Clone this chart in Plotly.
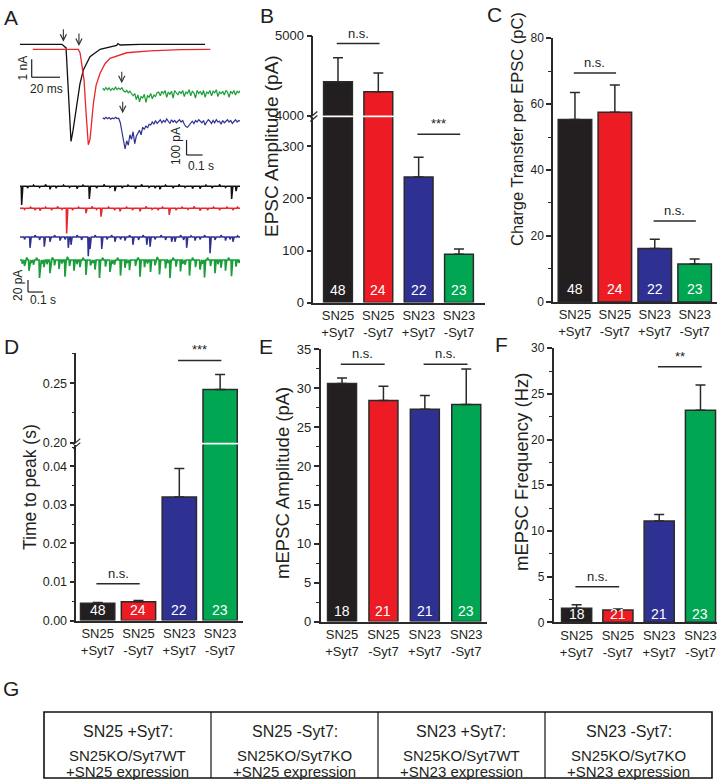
import numpy as np
import plotly.graph_objects as go

W, H = 718, 780
def fx(p): return p / W
def fy(p): return 1 - p / H

FONT = "Liberation Sans, Arial, Helvetica, sans-serif"
INK = "#231f20"

# ---------------- data ----------------
groups = ["SN25<br>+Syt7", "SN25<br>-Syt7", "SN23<br>+Syt7", "SN23<br>-Syt7"]
bar_colors = ["#231f20", "#ed1c24", "#2e3192", "#00a651"]
n_evoked = [48, 24, 22, 23]
n_mini = [18, 21, 21, 23]

epsc_amp = [4425, 4298, 241, 93]            # pA
epsc_amp_sem = [298, 234, 38, 10]
charge = [55.3, 57.5, 16.2, 11.5]           # pC
charge_sem = [8.2, 8.3, 2.8, 1.5]
time_to_peak = [0.0045, 0.0049, 0.0321, 0.2447]   # s
time_to_peak_sem = [0.0002, 0.0003, 0.0074, 0.0127]
mini_amp = [30.6, 28.4, 27.3, 27.9]         # pA
mini_amp_sem = [0.7, 1.85, 1.75, 4.55]
mini_freq = [1.53, 1.34, 11.1, 23.2]        # Hz
mini_freq_sem = [0.39, 0.12, 0.69, 2.76]

# significance brackets: (bar i, bar j, label, height, y-axis)
sig_B = [(0, 1, "n.s.", 4902, "y5"), (2, 3, "***", 323, "y4")]
sig_C = [(0, 1, "n.s.", 69.4, "y6"), (2, 3, "n.s.", 24.5, "y6")]
sig_D = [(0, 1, "n.s.", 0.00955, "y7"), (2, 3, "***", 0.2691, "y8")]
sig_E = [(0, 1, "n.s.", 33.07, "y9"), (2, 3, "n.s.", 33.07, "y9")]
sig_F = [(0, 1, "n.s.", 3.9, "y10"), (2, 3, "**", 27.97, "y10")]

# Panel A traces
# evoked EPSCs SN25 (time ms, current nA)
t_black = [0, 29.6, 32.5, 33.2, 34.6, 36.0, 37.4, 40.0, 42.3, 44.7, 49.4, 56.5, 63.5, 68.2, 69.1, 70.6, 84.7, 130.6]
i_black = [0, 0, -0.2, -1.2, -3.6, -5.4, -4.8, -3.3, -2.2, -1.43, -0.69, -0.28, -0.13, -0.06, 0.04, -0.04, 0, 0]
t_red = [0, 32.2, 33.4, 36.2, 37.6, 39.2, 40.4, 42.8, 44.7, 47.5, 51.0, 54.5, 66.3, 82.8, 104.0, 125.3]
i_red = [0, 0, -0.2, -1.7, -3.5, -5.3, -5.0, -3.0, -2.0, -1.33, -0.8, -0.5, -0.19, -0.08, -0.02, 0]
RED_SHIFT_MS, RED_SHIFT_NA = 9.0, -0.28
stim_black_ms, stim_red_ms = 30.6, 41.6

# evoked EPSCs SN23 (sampled every 10 ms, pA)
SN23_DT = 0.01
i_green = [5, -8, 10, -5, 8, -10, 4, -6, 12, -4, 6, -3,
           8, -12, -20, -10, -25, -15, -30,
           -45, -30, -70, -40, -85, -50, -60, -35, -90, -45, -55, -30, -65, -40, -50, -25,
           -20, -45, -15, -30, -10, -55, -20, -35, -15, -60, -10, -25, -40, -15, -30, -10,
           -50, -20, -30, -5, -45, -15, -25, -60, -10, -30, -15, -40, -10, -55, -20, -30,
           -10, -45, -15, -25, -5, -50, -20, -30, -15, -40, -10, -20, -55, -15, -30, -10,
           -40, -15, -25, -10]
i_blue = [3, -5, 6, -3, 5, -6, 2, -4, 7, -2, 0,
          -30, -90, -160, -205, -150, -180, -110, -140, -90, -170, -120, -100, -80, -110,
          -60, -75, -50, -65, -40, -45,
          -25, -40, -15, -35, -20, -10, -30, -15, -25, -5, -20, -35, -10, -25, -15, -30,
          -20, -10, -25, -15, -40, -55, -60, -45, -30, -20, -35, -15, -25, -10, -20, -30,
          -15, -45, -25, -10, -20, -35, -15, -30, -10, -25, -20, -40, -15, -30, -20, -10,
          -25, -15, -35, -20, -10, -25, -15, -20]
BLUE_OFFSET_PA = -195
stim_sn23_s = [0.119, 0.125]

# spontaneous mEPSC events (time s, amplitude pA; negative = upward noise blip)
MINI_T = 1.47
mini_black = [(0.011, 31), (0.05, 3), (0.09, -2), (0.13, 2), (0.17, -3), (0.2, 5), (0.24, 3), (0.29, -2),
              (0.33, 2), (0.38, 4), (0.42, -2), (0.462, 21), (0.51, 3), (0.56, -3), (0.6, 2), (0.633, 8),
              (0.68, 3), (0.72, -2), (0.77, 4), (0.81, -3), (0.86, 2), (0.9, 3), (0.933, 5), (0.97, -2),
              (1.02, 3), (1.06, -3), (1.1, 2), (1.15, 4), (1.2, 4), (1.24, -2), (1.28, 3), (1.33, -3),
              (1.37, 2), (1.411, 21), (1.44, 8)]
mini_red = [(0.03, 2), (0.07, -2), (0.1, 3), (0.133, 4), (0.17, -2), (0.21, 3), (0.25, -3), (0.28, 2),
            (0.311, 42), (0.35, 3), (0.39, -2), (0.44, 8), (0.48, -3), (0.51, 2), (0.54, 14), (0.59, -2),
            (0.63, 3), (0.667, 5), (0.71, -2), (0.75, 3), (0.8, 5), (0.84, -3), (0.88, 2), (0.92, 3),
            (0.95, -2), (0.995, 11), (1.04, 3), (1.08, -2), (1.12, 2), (1.16, -3), (1.2, 4), (1.25, 3),
            (1.29, -2), (1.33, 3), (1.38, -2), (1.42, 3), (1.45, -2)]
mini_blue = [(0.03, 4), (0.067, 18), (0.1, -3), (0.13, 5), (0.162, 16), (0.2, 8), (0.23, -3), (0.267, 6),
             (0.3, 4), (0.322, 18), (0.34, 13), (0.38, -3), (0.41, 5), (0.455, 32), (0.467, 20), (0.5, -3),
             (0.545, 20), (0.58, 4), (0.61, -3), (0.633, 8), (0.67, 4), (0.7, 6), (0.73, -3), (0.753, 13),
             (0.79, 5), (0.82, -3), (0.845, 13), (0.867, 16), (0.9, 4), (0.94, -3), (0.97, 5), (1.011, 8),
             (1.033, 8), (1.07, -3), (1.09, 5), (1.111, 18), (1.14, -2), (1.167, 6), (1.2, 4), (1.23, -3),
             (1.267, 27), (1.3, 5), (1.34, -3), (1.37, 6), (1.4, 4), (1.42, 8), (1.45, -2)]
mini_green = [(0.015, 6), (0.03, 10), (0.045, -4), (0.06, 18), (0.075, 5), (0.09, 8), (0.11, -4), (0.13, 30),
              (0.145, 6), (0.16, 12), (0.18, 7), (0.2, 22), (0.215, -4), (0.23, 9), (0.26, 15), (0.28, 6),
              (0.3, 28), (0.315, -5), (0.33, 10), (0.36, 18), (0.38, 7), (0.4, 12), (0.42, -4), (0.44, 25),
              (0.47, 9), (0.485, 5), (0.5, 16), (0.53, 30), (0.55, -4), (0.57, 11), (0.6, 20), (0.615, 6),
              (0.63, 8), (0.65, -4), (0.67, 26), (0.7, 13), (0.715, 5), (0.73, 17), (0.77, 10), (0.785, -4),
              (0.8, 28), (0.83, 12), (0.85, 6), (0.87, 20), (0.9, 9), (0.915, -5), (0.93, 24), (0.97, 14),
              (0.985, 5), (1.0, 30), (1.02, -4), (1.04, 11), (1.07, 19), (1.085, 6), (1.1, 8), (1.13, 26),
              (1.15, -4), (1.17, 12), (1.2, 16), (1.215, 6), (1.23, 29), (1.25, -4), (1.27, 10), (1.3, 22),
              (1.32, 7), (1.34, 13), (1.37, 18), (1.39, -4), (1.41, 27), (1.44, 11), (1.46, 5)]
mini_offsets = [0, -36.7, -84.5, -122.8]

# Table G
table_titles = ["SN25 +Syt7:", "SN25 -Syt7:", "SN23 +Syt7:", "SN23 -Syt7:"]
table_genotype = ["SN25KO/Syt7WT", "SN25KO/Syt7KO", "SN25KO/Syt7WT", "SN25KO/Syt7KO"]
table_expr = ["+SN25 expression", "+SN25 expression", "+SN23 expression", "+SN23 expression"]

# ---------------- figure ----------------
fig = go.Figure()
shapes = []
annots = []

def ann(x, y, text, size=12, xref="paper", yref="paper", color=INK, angle=0, xanchor="center",
        yanchor="middle", **kw):
    d = dict(x=x, y=y, xref=xref, yref=yref, text=text, showarrow=False, xanchor=xanchor, yanchor=yanchor,
             font=dict(family=FONT, size=size, color=color), textangle=angle)
    d.update(kw)
    annots.append(d)

# --- Panel A: evoked SN25 ---
fig.add_trace(go.Scatter(x=t_black, y=i_black, mode="lines", line=dict(color="#111111", width=1.3),
                         xaxis="x", yaxis="y", hoverinfo="skip"))
fig.add_trace(go.Scatter(x=np.array(t_red) + RED_SHIFT_MS, y=np.array(i_red) + RED_SHIFT_NA, mode="lines",
                         line=dict(color="#e8262b", width=1.3), xaxis="x", yaxis="y", hoverinfo="skip"))
for ts, yv in [(stim_black_ms, 0.144), (stim_red_ms, -0.094)]:
    annots.append(dict(x=ts, y=yv, xref="x", yref="y", ax=0, ay=-14, text="", showarrow=True,
                       arrowhead=5, arrowwidth=1.1, arrowsize=1.1, arrowcolor="#333"))
sb_t, sb_i = 8.26, -1.83
shapes.append(dict(type="line", xref="x", yref="y", x0=sb_t, x1=sb_t, y0=sb_i, y1=sb_i + 1, line=dict(color=INK, width=1.2)))
shapes.append(dict(type="line", xref="x", yref="y", x0=sb_t, x1=sb_t + 20, y0=sb_i, y1=sb_i, line=dict(color=INK, width=1.2)))
ann(fx(22), fy(68.5), "1 nA", 12, angle=-90)
ann(fx(46), fy(89), "20 ms", 12)

# --- Panel A: evoked SN23 ---
tg = np.arange(len(i_green)) * SN23_DT
tb = np.arange(len(i_blue)) * SN23_DT
fig.add_trace(go.Scatter(x=tg, y=i_green, mode="lines", line=dict(color="#1a9e3a", width=1.2),
                         xaxis="x2", yaxis="y2", hoverinfo="skip"))
fig.add_trace(go.Scatter(x=tb, y=np.array(i_blue) + BLUE_OFFSET_PA, mode="lines", line=dict(color="#2e3192", width=1.2),
                         xaxis="x2", yaxis="y2", hoverinfo="skip"))
for ts, yv in [(stim_sn23_s[0], 38), (stim_sn23_s[1], -162)]:
    annots.append(dict(x=ts, y=yv, xref="x2", yref="y2", ax=0, ay=-13, text="", showarrow=True,
                       arrowhead=5, arrowwidth=1.1, arrowsize=1.1, arrowcolor="#333"))
sb2_t, sb2_i = 0.524, -440
shapes.append(dict(type="line", xref="x2", yref="y2", x0=sb2_t, x1=sb2_t, y0=sb2_i, y1=sb2_i + 100, line=dict(color=INK, width=1.2)))
shapes.append(dict(type="line", xref="x2", yref="y2", x0=sb2_t, x1=sb2_t + 0.1, y0=sb2_i, y1=sb2_i, line=dict(color=INK, width=1.2)))
ann(fx(176), fy(146), "100 pA", 12, angle=-90)
ann(fx(201), fy(166), "0.1 s", 12)

# --- Panel A: mEPSCs ---
def mini_trace(events, offset):
    ts, ys = [0.0], [0.0]
    for t, a in sorted(events):
        ts += [t - 0.003, t, t + 0.008]
        ys += [0, -a, 0]
    ts.append(MINI_T); ys.append(0)
    return np.array(ts), np.array(ys, dtype=float) + offset

for ev, off, col, lw in [(mini_black, mini_offsets[0], "#111111", 1.5), (mini_red, mini_offsets[1], "#e8262b", 1.5),
                         (mini_blue, mini_offsets[2], "#2e3192", 1.5), (mini_green, mini_offsets[3], "#1a9e3a", 1.7)]:
    xs, ys = mini_trace(ev, off)
    fig.add_trace(go.Scatter(x=xs, y=ys, mode="lines", line=dict(color=col, width=lw),
                             xaxis="x3", yaxis="y3", hoverinfo="skip"))
sb3_t, sb3_i = 0.0533, -176.2
shapes.append(dict(type="line", xref="x3", yref="y3", x0=sb3_t, x1=sb3_t, y0=sb3_i, y1=sb3_i + 20, line=dict(color=INK, width=1.2)))
shapes.append(dict(type="line", xref="x3", yref="y3", x0=sb3_t, x1=sb3_t + 0.1, y0=sb3_i, y1=sb3_i, line=dict(color=INK, width=1.2)))
ann(fx(18), fy(286), "20 pA", 12, angle=-90)
ann(fx(43), fy(300), "0.1 s", 12)

# --- bar panels ---
def add_bars(vals, sems, xa, ya, width):
    fig.add_trace(go.Bar(x=[0, 1, 2, 3], y=vals, width=width, xaxis=xa, yaxis=ya,
                         marker=dict(color=bar_colors, line=dict(color="#2a2a2a", width=1.5)),
                         error_y=dict(type="data", array=sems, arrayminus=[0, 0, 0, 0], symmetric=False,
                                      color="#2a2a2a", thickness=1.5, width=5),
                         hoverinfo="skip"))

add_bars(epsc_amp, epsc_amp_sem, "x4", "y4", 0.714)
add_bars(epsc_amp, epsc_amp_sem, "x4", "y5", 0.714)
add_bars(charge, charge_sem, "x6", "y6", 0.84)
add_bars(time_to_peak, time_to_peak_sem, "x7", "y7", 0.84)
add_bars(time_to_peak, time_to_peak_sem, "x7", "y8", 0.84)
add_bars(mini_amp, mini_amp_sem, "x9", "y9", 0.70)
add_bars(mini_freq, mini_freq_sem, "x10", "y10", 0.73)

def sig(lst, xa, size=13):
    for i, j, lab, yv, ya in lst:
        shapes.append(dict(type="line", xref=xa, yref=ya, x0=i - 0.03, x1=j + 0.03, y0=yv, y1=yv,
                           line=dict(color="#2a2a2a", width=1.5)))
        ann((i + j) / 2, yv, lab, size, xref=xa, yref=ya, yanchor="bottom", yshift=1)

sig(sig_B, "x4"); sig(sig_C, "x6"); sig(sig_D, "x7"); sig(sig_E, "x9"); sig(sig_F, "x10")

def nlabels(ns, xa, ya, yv):
    for k, n in enumerate(ns):
        ann(k, yv, str(n), 14, xref=xa, yref=ya, color="white")

nlabels(n_evoked, "x4", "y4", 24.8)
nlabels(n_evoked, "x6", "y6", 3.9)
nlabels(n_evoked, "x7", "y7", 0.0027)
nlabels(n_mini, "x9", "y9", 1.35)
nlabels(n_mini, "x10", "y10", 0.9)

# axis titles
ann(fx(271), fy(146), "EPSC Amplitude (pA)", 19, angle=-90)
ann(fx(517), fy(129), "Charge Transfer per EPSC (pC)", 16.5, angle=-90)
ann(fx(30), fy(487), "Time to peak (s)", 17.5, angle=-90)
ann(fx(282), fy(483), "mEPSC Amplitude (pA)", 18.5, angle=-90)
ann(fx(522), fy(472), "mEPSC Frequency (Hz)", 18.5, angle=-90)

# panel letters
for L, x, y in [("A", 11, 17), ("B", 267, 15), ("C", 494, 14), ("D", 11, 346), ("E", 266, 346), ("F", 501, 344), ("G", 11, 688)]:
    ann(fx(x), fy(y), L, 21)

# axis break marks
def brk(xp, yp):
    for dy in (-2, 2):
        shapes.append(dict(type="line", xref="paper", yref="paper", x0=fx(xp - 3), x1=fx(xp + 4),
                           y0=fy(yp + dy + 3), y1=fy(yp + dy - 3), line=dict(color="#2a2a2a", width=1.2)))
brk(313.3, 116.5)
brk(76.3, 443.6)

# Table G
TL, TR, TT, TB = 44, 712, 712, 778
dividers = [211, 378, 545]
shapes.append(dict(type="rect", xref="paper", yref="paper", x0=fx(TL), x1=fx(TR), y0=fy(TB), y1=fy(TT),
                   line=dict(color="#111", width=1.6)))
for d in dividers:
    shapes.append(dict(type="line", xref="paper", yref="paper", x0=fx(d), x1=fx(d), y0=fy(TB), y1=fy(TT),
                       line=dict(color="#111", width=1.2)))
edges = [TL] + dividers + [TR]
for k in range(4):
    cx = (edges[k] + edges[k + 1]) / 2
    ann(fx(cx), fy(731), table_titles[k], 16)
    ann(fx(cx), fy(755), table_genotype[k], 15)
    ann(fx(cx), fy(771), table_expr[k], 15)

# ---------------- axes ----------------
def hidden(dom_x, rng_x, dom_y, rng_y):
    return (dict(domain=dom_x, range=rng_x, visible=False, fixedrange=True, automargin=False),
            dict(domain=dom_y, range=rng_y, visible=False, fixedrange=True, automargin=False))

def xcat(dom, rng, anchor, size):
    return dict(domain=dom, range=rng, anchor=anchor, showline=True, linecolor="#2a2a2a", linewidth=1.5,
                tickvals=[0, 1, 2, 3], ticktext=groups, ticks="", showgrid=False, zeroline=False,
                tickfont=dict(family=FONT, size=size, color=INK), fixedrange=True, automargin=False)

def ynum(dom, rng, anchor, size, tickvals=None, dtick=None, minor_vals=None, minor_dtick=None, fmt=None):
    d = dict(domain=dom, range=rng, anchor=anchor, showline=True, linecolor="#2a2a2a", linewidth=1.5,
             ticks="outside", ticklen=5, tickwidth=1.5, tickcolor="#2a2a2a", showgrid=False, zeroline=False,
             tickfont=dict(family=FONT, size=size, color=INK), fixedrange=True, automargin=False)
    if tickvals is not None:
        d["tickvals"] = tickvals
    if dtick is not None:
        d["tick0"] = 0; d["dtick"] = dtick
    if fmt:
        d["tickformat"] = fmt
    m = dict(ticks="outside", ticklen=3, tickwidth=1.2, tickcolor="#2a2a2a", showgrid=False)
    if minor_vals is not None:
        m["tickvals"] = minor_vals
        d["minor"] = m
    elif minor_dtick is not None:
        m["dtick"] = minor_dtick
        d["minor"] = m
    return d

xa1, ya1 = hidden([fx(15), fx(240)], [(15 - 20) / 1.417, (240 - 20) / 1.417],
                  [fy(160), fy(25)], [-(160 - 44.3) / 18, (44.3 - 25) / 18])
xa2, ya2 = hidden([fx(100), fx(240)], [(100 - 102.7) / 160, (240 - 102.7) / 160],
                  [fy(175), fy(60)], [-(175 - 89) / 0.15, (89 - 60) / 0.15])
xa3, ya3 = hidden([fx(18), fx(240)], [(18 - 20) / 150, (240 - 20) / 150],
                  [fy(305), fy(175)], [-(305 - 186.3) / 0.6, (186.3 - 175) / 0.6])
xa1["anchor"] = "y"; ya1["anchor"] = "x"
xa2["anchor"] = "y2"; ya2["anchor"] = "x2"
xa3["anchor"] = "y3"; ya3["anchor"] = "x3"

CAT = 13
layout = dict(
    width=W, height=H, margin=dict(l=0, r=0, t=0, b=0, pad=0, autoexpand=False), showlegend=False,
    paper_bgcolor="white", plot_bgcolor="rgba(0,0,0,0)", barmode="overlay",
    font=dict(family=FONT, color=INK),
    xaxis=xa1, yaxis=ya1, xaxis2=xa2, yaxis2=ya2, xaxis3=xa3, yaxis3=ya3,
    xaxis4=xcat([fx(313.3), fx(485)], [-0.612, 3.645], "y4", CAT),
    yaxis4=ynum([fy(302.6), fy(117.3)], [0, 355.7], "x4", 13, tickvals=[0, 100, 200, 300]),
    yaxis5=ynum([fy(115.6), fy(35.7)], [4000, 5000], "x4", 13, tickvals=[4000, 5000]),
    xaxis6=xcat([fx(553.1), fx(717)], [-0.548, 3.56], "y6", CAT),
    yaxis6=ynum([fy(301.9), fy(38.1)], [0, 80], "x6", 12, dtick=20, minor_dtick=10),
    xaxis7=xcat([fx(76.3), fx(243)], [-0.523, 3.56], "y7", CAT),
    yaxis7=ynum([fy(620.5), fy(444.5)], [0, 0.0457], "x7", 12.5, dtick=0.01, minor_dtick=0.005, fmt=".2f"),
    yaxis8=ynum([fy(442.7), fy(352.75)], [0.2, 0.2756], "x7", 12.5, tickvals=[0.20, 0.25],
                minor_vals=[0.225, 0.275], fmt=".2f"),
    xaxis9=xcat([fx(320.5), fx(486.75)], [-0.52, 3.495], "y9", CAT),
    yaxis9=ynum([fy(621.6), fy(349.25)], [0, 35], "x9", 13, dtick=5, minor_dtick=2.5),
    xaxis10=xcat([fx(553.5), fx(717)], [-0.56, 3.40], "y10", CAT),
    yaxis10=ynum([fy(622.3), fy(348.2)], [0, 30], "x10", 12, dtick=5, minor_dtick=2.5),
    shapes=shapes, annotations=annots,
)
fig.update_layout(**layout)
fig.write_html("out.html", config={"displayModeBar": False},
               post_script="document.body.style.margin='0px';document.body.style.padding='0px';")
